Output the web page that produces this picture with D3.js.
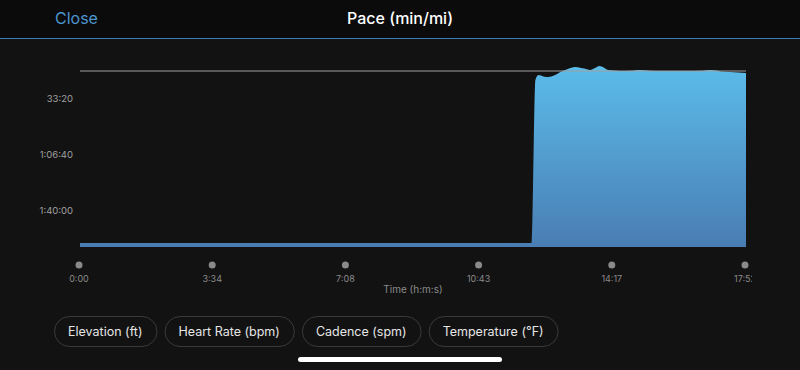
<!DOCTYPE html>
<html>
<head>
<meta charset="utf-8">
<script src="https://cdn.jsdelivr.net/npm/d3@7"></script>
<style>
  html, body { margin: 0; padding: 0; background: #121212; }
  svg { display: block; font-family: Inter, Roboto, "Noto Sans", sans-serif; }
</style>
</head>
<body>
<script>
// pace samples: time (s) and pace (s per mile)
var times = [0, 300, 600, 723, 727, 733, 738, 746, 754, 763, 773, 785, 797, 805, 812, 821, 829, 836, 843, 850, 860, 869, 885, 902, 918, 934, 950, 966, 982, 998, 1017, 1032, 1046, 1060, 1072];
var paces = [7180, 7180, 7180, 7180, 7180, 1360, 1180, 1230, 1250, 1200, 1071, 960, 893, 920, 950, 1000, 930, 857, 910, 1000, 1020, 1036, 1030, 1000, 1025, 1036, 1040, 1036, 1036, 1030, 1000, 1050, 1071, 1090, 1107];
var avgPace = 1036;

var yTicks = [2000, 4000, 6000];
var yTickLabels = ["33:20", "1:06:40", "1:40:00"];
var xTicks = [0, 214.4, 428.8, 643.2, 857.6, 1072];
var xTickLabels = ["0:00", "3:34", "7:08", "10:43", "14:17", "17:52"];
var buttons = ["Elevation (ft)", "Heart Rate (bpm)", "Cadence (spm)", "Temperature (°F)"];

var W = 800, H = 370;
var svg = d3.select("body").append("svg").attr("width", W).attr("height", H);

// header
svg.append("rect").attr("width", W).attr("height", 38).attr("fill", "#0b0b0b");
svg.append("line").attr("x1", 0).attr("x2", W).attr("y1", 38.5).attr("y2", 38.5)
  .attr("stroke", "#3b7db5").attr("stroke-width", 1);
svg.append("text").attr("x", 55).attr("y", 24).attr("fill", "#4b95cf")
  .style("font-size", "16px").text("Close");
svg.append("text").attr("x", 400).attr("y", 24).attr("text-anchor", "middle")
  .attr("fill", "#fff").style("font-size", "16px").style("font-weight", 500).text("Pace (min/mi)");

// scales
var x = d3.scaleLinear().domain([0, 1072]).range([80, 746]);
var y = d3.scaleLinear().domain([0, 2000]).range([42, 98]);
var yBase = 247;

var defs = svg.append("defs");
var grad = defs.append("linearGradient").attr("id", "fillGrad")
  .attr("x1", 0).attr("y1", 0).attr("x2", 0).attr("y2", 1);
grad.append("stop").attr("offset", "0%").attr("stop-color", "#5bbce9");
grad.append("stop").attr("offset", "100%").attr("stop-color", "#497db3");

defs.append("clipPath").attr("id", "axClip").append("rect")
  .attr("x", 0).attr("y", 250).attr("width", 752).attr("height", 60);

var data = times.map(function(t, i) { return { t: t, p: paces[i] }; });

var area = d3.area()
  .x(function(d) { return x(d.t); })
  .y0(yBase)
  .y1(function(d) { return y(d.p); })
  .curve(d3.curveMonotoneX);

svg.append("path").datum(data).attr("d", area).attr("fill", "url(#fillGrad)");

// average line
svg.append("line").attr("x1", x(0)).attr("x2", x(1072))
  .attr("y1", y(avgPace)).attr("y2", y(avgPace))
  .attr("stroke", "#a0a0a0").attr("stroke-width", 1);

// y axis labels
var yAxis = d3.axisLeft(y).tickValues(yTicks)
  .tickFormat(function(d, i) { return yTickLabels[i]; })
  .tickSize(0).tickPadding(0);
var gy = svg.append("g").attr("transform", "translate(73,0)").call(yAxis);
gy.select(".domain").remove();
gy.selectAll("text").attr("fill", "#a0a0a0").style("font-size", "9.5px")
  .style("font-family", "Inter, Roboto, sans-serif");

// x axis: dots + labels
var gx = svg.append("g").attr("clip-path", "url(#axClip)");
gx.selectAll("circle").data(xTicks).enter().append("circle")
  .attr("cx", function(d) { return x(d) - 1; }).attr("cy", 265).attr("r", 3.5)
  .attr("fill", "#8a8a8a");
gx.selectAll("text").data(xTicks).enter().append("text")
  .attr("x", function(d) { return x(d) - 1; }).attr("y", 282)
  .attr("text-anchor", "middle").attr("fill", "#8a8a8a").style("font-size", "9px")
  .text(function(d, i) { return xTickLabels[i]; });
svg.append("text").attr("x", 413).attr("y", 293).attr("text-anchor", "middle")
  .attr("fill", "#8a8a8a").style("font-size", "10px").text("Time (h:m:s)");

// buttons
var bx = 54;
buttons.forEach(function(b) {
  var t = svg.append("text").attr("y", 336).attr("fill", "#e6e6e6")
    .style("font-size", "12.5px").text(b);
  var w = t.node().getComputedTextLength() + 28;
  t.attr("x", bx + w / 2).attr("text-anchor", "middle");
  svg.append("rect").attr("x", bx + 0.5).attr("y", 316.5).attr("width", w).attr("height", 30)
    .attr("rx", 15).attr("fill", "none").attr("stroke", "#3a3a3a");
  bx += w + 8;
});

// home indicator
svg.append("rect").attr("x", 298).attr("y", 357).attr("width", 204).attr("height", 5)
  .attr("rx", 2.5).attr("fill", "#fff");
</script>
</body>
</html>
